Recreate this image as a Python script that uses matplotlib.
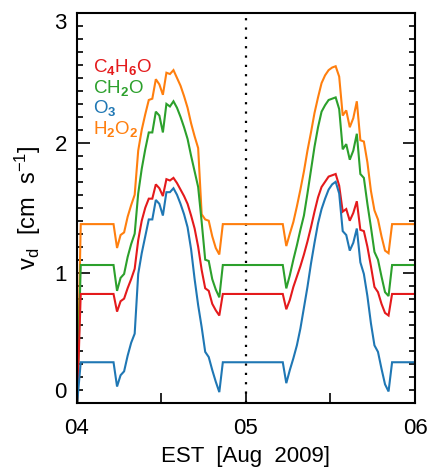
import matplotlib
matplotlib.use("Agg")
import matplotlib.pyplot as plt
import numpy as np

# ---------------- data ----------------
# time in hours since 04 Aug 2009 00:00 EST
hours_start = [0.1, 0.6]
hours_day1 = [5.25, 5.75, 6.25, 6.75, 7.25, 7.75, 8.25, 8.75, 9.25, 9.75,
              10.25, 10.75, 11.25, 11.75, 12.25, 12.75, 13.25, 13.75, 14.25, 14.75,
              15.25, 15.75, 16.25, 16.75, 17.25, 17.75, 18.25, 18.75, 19.25, 19.75,
              20.25, 20.75]
hours_day2 = [29.25, 29.75, 30.25, 30.75, 31.25, 31.75, 32.25, 32.75, 33.25, 33.75,
              34.25, 34.75, 35.25, 35.75, 36.25, 36.75, 37.25, 37.75, 38.25, 38.75,
              39.25, 39.75, 40.25, 40.75, 41.25, 41.75, 42.25, 42.75, 43.25, 43.75,
              44.25, 44.75]
hours_end = [47.9]

# deposition velocities [cm s-1]
c4h6o_night = [0.0, 0.836]
c4h6o_day1 = [0.836, 0.70, 0.78, 0.80, 0.88, 0.95, 1.03, 1.25, 1.40, 1.50,
              1.57, 1.57, 1.68, 1.65, 1.59, 1.72, 1.71, 1.73, 1.69, 1.64,
              1.59, 1.53, 1.44, 1.34, 1.20, 1.02, 0.88, 0.86, 0.76, 0.71,
              0.67, 0.836]
c4h6o_day2 = [0.836, 0.718, 0.79, 0.89, 0.97, 1.05, 1.14, 1.24, 1.35, 1.47,
              1.58, 1.66, 1.70, 1.74, 1.75, 1.76, 1.67, 1.47, 1.49, 1.40,
              1.46, 1.55, 1.33, 1.32, 1.20, 1.05, 0.89, 0.85, 0.76, 0.69,
              0.67, 0.836]
c4h6o_end = [0.836]

ch2o_night = [0.0, 1.059]
ch2o_day1 = [1.059, 0.86, 0.96, 0.99, 1.12, 1.22, 1.30, 1.61, 1.80, 1.95,
             2.08, 2.08, 2.24, 2.21, 2.08, 2.30, 2.28, 2.32, 2.27, 2.20,
             2.12, 2.03, 1.90, 1.78, 1.66, 1.39, 1.10, 1.09, 0.95, 0.87,
             0.81, 1.059]
ch2o_day2 = [1.059, 0.879, 0.98, 1.10, 1.21, 1.33, 1.44, 1.61, 1.79, 1.97,
             2.12, 2.24, 2.29, 2.33, 2.34, 2.35, 2.26, 1.95, 1.99, 1.87,
             1.94, 2.07, 1.76, 1.73, 1.53, 1.35, 1.16, 1.10, 0.97, 0.85,
             0.82, 1.059]
ch2o_end = [1.059]

o3_night = [0.0, 0.31]
o3_day1 = [0.31, 0.123, 0.21, 0.24, 0.36, 0.46, 0.53, 0.99, 1.15, 1.28,
           1.41, 1.41, 1.56, 1.53, 1.44, 1.62, 1.62, 1.65, 1.60, 1.53,
           1.45, 1.35, 1.18, 0.95, 0.75, 0.58, 0.39, 0.35, 0.25, 0.16,
           0.08, 0.31]
o3_day2 = [0.31, 0.149, 0.25, 0.34, 0.44, 0.57, 0.73, 0.89, 1.07, 1.23,
           1.38, 1.49, 1.57, 1.64, 1.68, 1.70, 1.61, 1.32, 1.29, 1.17,
           1.23, 1.34, 1.08, 0.99, 0.82, 0.61, 0.44, 0.39, 0.26, 0.14,
           0.085, 0.31]
o3_end = [0.31]

h2o2_night = [0.0, 1.374]
h2o2_day1 = [1.374, 1.19, 1.29, 1.31, 1.43, 1.52, 1.60, 1.94, 2.10, 2.22,
             2.33, 2.34, 2.49, 2.45, 2.37, 2.54, 2.53, 2.56, 2.50, 2.44,
             2.36, 2.27, 2.15, 2.05, 1.96, 1.45, 1.41, 1.40, 1.28, 1.19,
             1.14, 1.374]
h2o2_day2 = [1.374, 1.205, 1.30, 1.39, 1.51, 1.64, 1.78, 1.94, 2.08, 2.23,
             2.35, 2.46, 2.52, 2.56, 2.58, 2.59, 2.51, 2.21, 2.25, 2.12,
             2.19, 2.32, 2.02, 2.01, 1.85, 1.63, 1.48, 1.41, 1.28, 1.17,
             1.15, 1.374]
h2o2_end = [1.374]

species_labels = [r'C$_\mathbf{4}$H$_\mathbf{6}$O', r'CH$_\mathbf{2}$O',
                  r'O$_\mathbf{3}$', r'H$_\mathbf{2}$O$_\mathbf{2}$']
species_colors = ['#e41a1c', '#2ca02c', '#1f77b4', '#ff7f0e']

xtick_hours = [0, 12, 24, 36, 48]
xtick_labels = ['04', '', '05', '', '06']
ytick_values = [0, 1, 2, 3]
ytick_labels = ['0', '1', '2', '3']
midnight_hour = 24
xlabel_text = 'EST  [Aug  2009]'
ylabel_text = r'v$_\mathrm{d}$  [cm  s$^{\mathrm{-1}}$]'

# ---------------- plot ----------------
FONT = 'Liberation Sans'
plt.rcParams['font.family'] = [FONT, 'DejaVu Sans']
plt.rcParams['mathtext.fontset'] = 'custom'
plt.rcParams['mathtext.rm'] = FONT
plt.rcParams['mathtext.it'] = FONT + ':italic'
plt.rcParams['mathtext.bf'] = FONT + ':bold'

t = np.array(hours_start + hours_day1 + hours_day2 + hours_end)
series = [
    c4h6o_night + c4h6o_day1 + c4h6o_day2 + c4h6o_end,
    ch2o_night + ch2o_day1 + ch2o_day2 + ch2o_end,
    o3_night + o3_day1 + o3_day2 + o3_end,
    h2o2_night + h2o2_day1 + h2o2_day2 + h2o2_end,
]

fig = plt.figure(figsize=(4.30, 4.71), dpi=100)
ax = fig.add_axes([76.5 / 430, 1 - 402.5 / 471, (415 - 76.5) / 430, (402.5 - 13) / 471])

for idx in [3, 1, 0, 2]:
    ax.plot(t, series[idx], color=species_colors[idx], lw=1.5, solid_joinstyle='miter')

ax.axvline(midnight_hour, color='black', lw=1.6, ls=(0, (1, 3.2)), zorder=0.5)

ax.set_xlim(0, 48)
ax.set_ylim(0, 3)
ax.set_xticks(xtick_hours)
ax.set_xticklabels(xtick_labels)
ax.set_yticks(ytick_values)
ax.set_yticklabels(ytick_labels)
ax.set_yticks(np.arange(0, 3.0001, 0.1), minor=True)
ax.tick_params(axis='both', which='both', direction='in', color='black', width=1.2)
ax.tick_params(axis='y', which='major', length=9, left=True, right=True, labelsize=16, pad=7)
ax.tick_params(axis='y', which='minor', length=4.5, left=True, right=True)
ax.tick_params(axis='x', which='major', length=7, top=False, bottom=True, labelsize=16, pad=11)

yl = ax.get_yticklabels()
yl[0].set_va('bottom')
yl[-1].set_va('top')

for sp in ax.spines.values():
    sp.set_linewidth(1.5)

ax.set_xlabel(xlabel_text, fontsize=16, labelpad=5)
ax.set_ylabel(ylabel_text, fontsize=17, labelpad=8)

for k, (lab, col) in enumerate(zip(species_labels, species_colors)):
    ax.text(0.048, 0.849 - k * 0.0535, lab, color=col, fontsize=13.5,
            transform=ax.transAxes, ha='left', va='baseline')

fig.savefig('out.png', dpi=100)
